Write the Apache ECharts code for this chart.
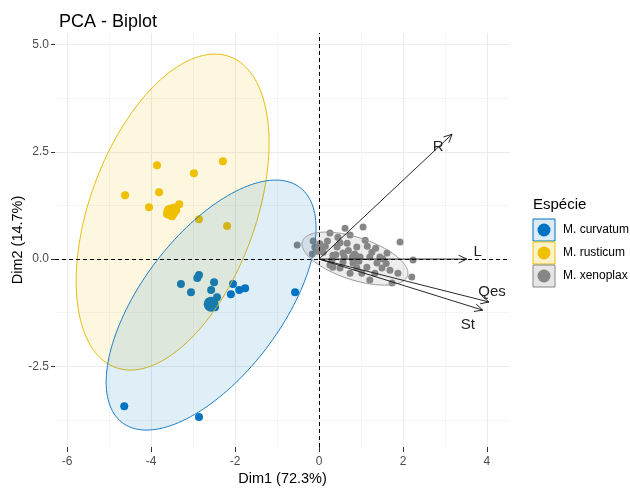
<!DOCTYPE html>
<html>
<head>
<meta charset="utf-8">
<script src="https://cdn.jsdelivr.net/npm/echarts@6/dist/echarts.min.js"></script>
<style>
html, body { margin: 0; padding: 0; background: #fff; }
#main { width: 630px; height: 489px; }
</style>
</head>
<body>
<div id="main"></div>
<script>
// individuals (Dim1, Dim2)
var curvatum = [[-3.29, -0.58], [-3.05, -0.77], [-2.90, -0.44], [-2.86, -0.37], [-2.50, -0.54],
    [-2.57, -0.72], [-2.43, -0.89], [-2.05, -0.58], [-2.10, -0.82], [-1.90, -0.72], [-1.76, -0.68],
    [-0.57, -0.77], [-4.64, -3.43], [-2.86, -3.68], [-2.62, -1.00], [-2.48, -1.12]];
var curvatumMean = [[-2.57, -1.05]];
var rusticum = [[-3.86, 2.19], [-2.29, 2.28], [-2.98, 2.00], [-4.62, 1.49], [-3.81, 1.56],
    [-4.05, 1.21], [-3.33, 1.28], [-2.86, 0.93], [-2.19, 0.77], [-3.62, 1.05], [-3.45, 1.20],
    [-3.50, 1.00], [-3.40, 1.14]];
var rusticumMean = [[-3.53, 1.10]];
var xenoplax = [[-0.52, 0.33], [-0.14, 0.42], [-0.10, 0.28], [-0.05, 0.18], [0.02, 0.36], [-0.16, 0.12],
    [0.05, 0.22], [0.26, 0.61], [0.45, 0.51], [0.62, 0.72], [0.74, 0.56], [1.05, 0.75], [0.67, 0.37],
    [0.90, 0.28], [1.10, 0.44], [0.43, 0.28], [0.57, 0.14], [0.10, 0.16], [0.31, -0.02], [0.33, 0.09],
    [0.26, -0.14], [0.50, -0.21], [0.33, -0.19], [0.57, -0.07], [0.81, -0.09], [0.74, -0.33], [0.98, 0.05],
    [1.21, 0.05], [1.26, 0.16], [1.45, 0.05], [1.62, 0.14], [1.38, -0.09], [1.14, -0.19], [1.50, -0.21],
    [1.33, -0.33], [1.02, -0.33], [1.21, -0.49], [1.69, -0.26], [1.74, -0.56], [1.88, -0.33], [2.21, -0.42],
    [2.24, -0.02], [1.93, 0.40], [0.85, 0.12], [0.95, -0.05], [1.15, 0.30], [0.20, 0.42], [0.70, 0.20],
    [1.35, 0.25], [1.52, 0.00], [0.60, 0.05], [0.40, 0.10], [0.15, 0.30], [0.90, -0.20], [1.60, -0.10],
    [0.50, 0.38]];
var xenoplaxMean = [[0.85, 0.03]];

// ellipses: centre x, centre y, half width, half height, cos of phase (y at the rightmost point)
var ellCurvatum = [-2.571, -1.072, 2.50, 2.914, 0.616];
var ellRusticum = [-3.488, 1.096, 2.298, 3.683, 0.437];
var ellXenoplax = [0.857, 0.012, 1.262, 0.618, -0.55];

// variables
var varNames = ['R', 'L', 'Qes', 'St'];
var varX = [3.17, 3.52, 4.05, 3.90];
var varY = [2.91, 0.00, -1.00, -1.19];

var xTicks = [-6, -4, -2, 0, 2, 4];
var xMinor = [-5, -3, -1, 1, 3];
var yTicks = [-2.5, 0, 2.5, 5];
var yMinor = [-3.75, -1.25, 1.25, 3.75];

var groups = ['M. curvatum', 'M. rusticum', 'M. xenoplax'];
var colors = ['#0073C2', '#EFC000', '#868686'];

var FONT = 'Liberation Sans, Arial, sans-serif';
var labelOffset = { R: [-14, 13], L: [11, -7], Qes: [3, -10], St: [-15, 15] };

var myChart = echarts.init(document.getElementById('main'));

function ellipseSeries(e, fill, stroke) {
    return {
        type: 'custom',
        silent: true,
        z: 3,
        data: [e],
        renderItem: function (params, api) {
            var cx = api.value(0), cy = api.value(1), rx = api.value(2), ry = api.value(3);
            var d = Math.acos(api.value(4));
            var pts = [];
            for (var i = 0; i < 160; i++) {
                var t = i / 160 * Math.PI * 2;
                pts.push(api.coord([cx + rx * Math.cos(t), cy + ry * Math.cos(t - d)]));
            }
            return {
                type: 'polygon',
                shape: { points: pts },
                style: { fill: fill, stroke: stroke, lineWidth: 1 }
            };
        }
    };
}

function pointSeries(data, color, size) {
    return {
        type: 'scatter',
        silent: true,
        z: 2,
        symbol: 'circle',
        symbolSize: size,
        itemStyle: { color: color, opacity: 1 },
        data: data
    };
}

var axisCommon = {
    type: 'value',
    axisLine: { show: false, onZero: false }
};

option = {
    animation: false,
    backgroundColor: '#fff',
    title: {
        text: 'PCA - Biplot',
        left: 54,
        top: 8,
        textStyle: { fontFamily: FONT, fontSize: 18, fontWeight: 'normal', color: '#000' }
    },
    grid: { left: 55, right: 120, top: 33, bottom: 42, containLabel: false, outerBoundsMode: 'none' },
    xAxis: [
        Object.assign({}, axisCommon, {
            min: -6.29, max: 4.55,
            name: 'Dim1 (72.3%)',
            nameLocation: 'middle',
            nameGap: 24,
            nameMoveOverlap: false,
            nameTextStyle: { fontFamily: FONT, fontSize: 14.5, color: '#000' },
            axisTick: { show: true, customValues: xTicks, length: 5, lineStyle: { color: '#333', width: 1 } },
            axisLabel: { customValues: xTicks, color: '#4d4d4d', fontFamily: FONT, fontSize: 12, margin: 9 },
            splitLine: { show: true, lineStyle: { color: '#ebebeb', width: 1.1 } }
        }),
        Object.assign({}, axisCommon, {
            min: -6.29, max: 4.55,
            position: 'bottom',
            axisTick: { show: false, customValues: xMinor },
            axisLabel: { show: false, customValues: xMinor },
            splitLine: { show: true, lineStyle: { color: '#f3f3f3', width: 0.8 } }
        })
    ],
    yAxis: [
        Object.assign({}, axisCommon, {
            min: -4.38, max: 5.27,
            name: 'Dim2 (14.7%)',
            nameLocation: 'middle',
            nameGap: 30,
            nameMoveOverlap: false,
            nameTextStyle: { fontFamily: FONT, fontSize: 14.5, color: '#000' },
            axisTick: { show: true, customValues: yTicks, length: 4, lineStyle: { color: '#333', width: 1 } },
            axisLabel: {
                customValues: yTicks, color: '#4d4d4d', fontFamily: FONT, fontSize: 12, margin: 6,
                formatter: function (v) { return v.toFixed(1); }
            },
            splitLine: { show: true, lineStyle: { color: '#ebebeb', width: 1.1 } }
        }),
        Object.assign({}, axisCommon, {
            min: -4.38, max: 5.27,
            position: 'left',
            axisTick: { show: false, customValues: yMinor },
            axisLabel: { show: false, customValues: yMinor },
            splitLine: { show: true, lineStyle: { color: '#f3f3f3', width: 0.8 } }
        })
    ],
    series: [
        pointSeries(curvatum, colors[0], 8),
        pointSeries(curvatumMean, colors[0], 15),
        pointSeries(rusticum, colors[1], 8),
        pointSeries(rusticumMean, colors[1], 15),
        pointSeries(xenoplax, colors[2], 7),
        pointSeries(xenoplaxMean, colors[2], 12),
        ellipseSeries(ellRusticum, 'rgba(239,192,0,0.12)', '#E8BD10'),
        ellipseSeries(ellCurvatum, 'rgba(0,115,194,0.12)', '#1f7fc4'),
        ellipseSeries(ellXenoplax, 'rgba(134,134,134,0.15)', '#999999'),
        {
            type: 'line',
            silent: true,
            z: 4,
            data: [],
            markLine: {
                silent: true,
                symbol: 'none',
                label: { show: false },
                lineStyle: { color: '#000', type: [4, 3], width: 1 },
                data: [{ xAxis: 0 }, { yAxis: 0 }]
            }
        },
        {
            type: 'custom',
            silent: true,
            z: 5,
            data: varX.map(function (x, i) { return [x, varY[i]]; }),
            renderItem: function (params, api) {
                var o = api.coord([0, 0]);
                var p = api.coord([api.value(0), api.value(1)]);
                var ang = Math.atan2(p[1] - o[1], p[0] - o[0]);
                var h = 9, a = Math.PI / 7;
                var h1 = [p[0] - h * Math.cos(ang - a), p[1] - h * Math.sin(ang - a)];
                var h2 = [p[0] - h * Math.cos(ang + a), p[1] - h * Math.sin(ang + a)];
                var name = varNames[params.dataIndex];
                var off = labelOffset[name];
                return {
                    type: 'group',
                    children: [
                        { type: 'line', shape: { x1: o[0], y1: o[1], x2: p[0], y2: p[1] },
                          style: { stroke: '#111', lineWidth: 0.9 } },
                        { type: 'polyline', shape: { points: [h1, p, h2] },
                          style: { stroke: '#111', fill: null, lineWidth: 0.9 } },
                        { type: 'text', x: p[0] + off[0], y: p[1] + off[1],
                          style: { text: name, fill: '#222', font: '15px ' + FONT,
                                   align: 'center', verticalAlign: 'middle' } }
                    ]
                };
            }
        }
    ],
    graphic: [
        { type: 'text', left: 533, top: 197,
          style: { text: 'Espécie', fill: '#000', font: '15px ' + FONT } }
    ].concat(groups.map(function (g, i) {
        var y = 219 + i * 23;
        var fills = ['#dcebf6', '#fcf2cc', '#e6e6e6'];
        return {
            type: 'group',
            children: [
                { type: 'rect', shape: { x: 533, y: y, width: 22, height: 22 },
                  style: { fill: fills[i], stroke: colors[i], lineWidth: 1 } },
                { type: 'circle', shape: { cx: 544, cy: y + 11, r: 6.5 },
                  style: { fill: colors[i] } },
                { type: 'text', x: 563, y: y + 11,
                  style: { text: g, fill: '#000', font: '12px ' + FONT, verticalAlign: 'middle' } }
            ]
        };
    }))
};

myChart.setOption(option);
</script>
</body>
</html>
